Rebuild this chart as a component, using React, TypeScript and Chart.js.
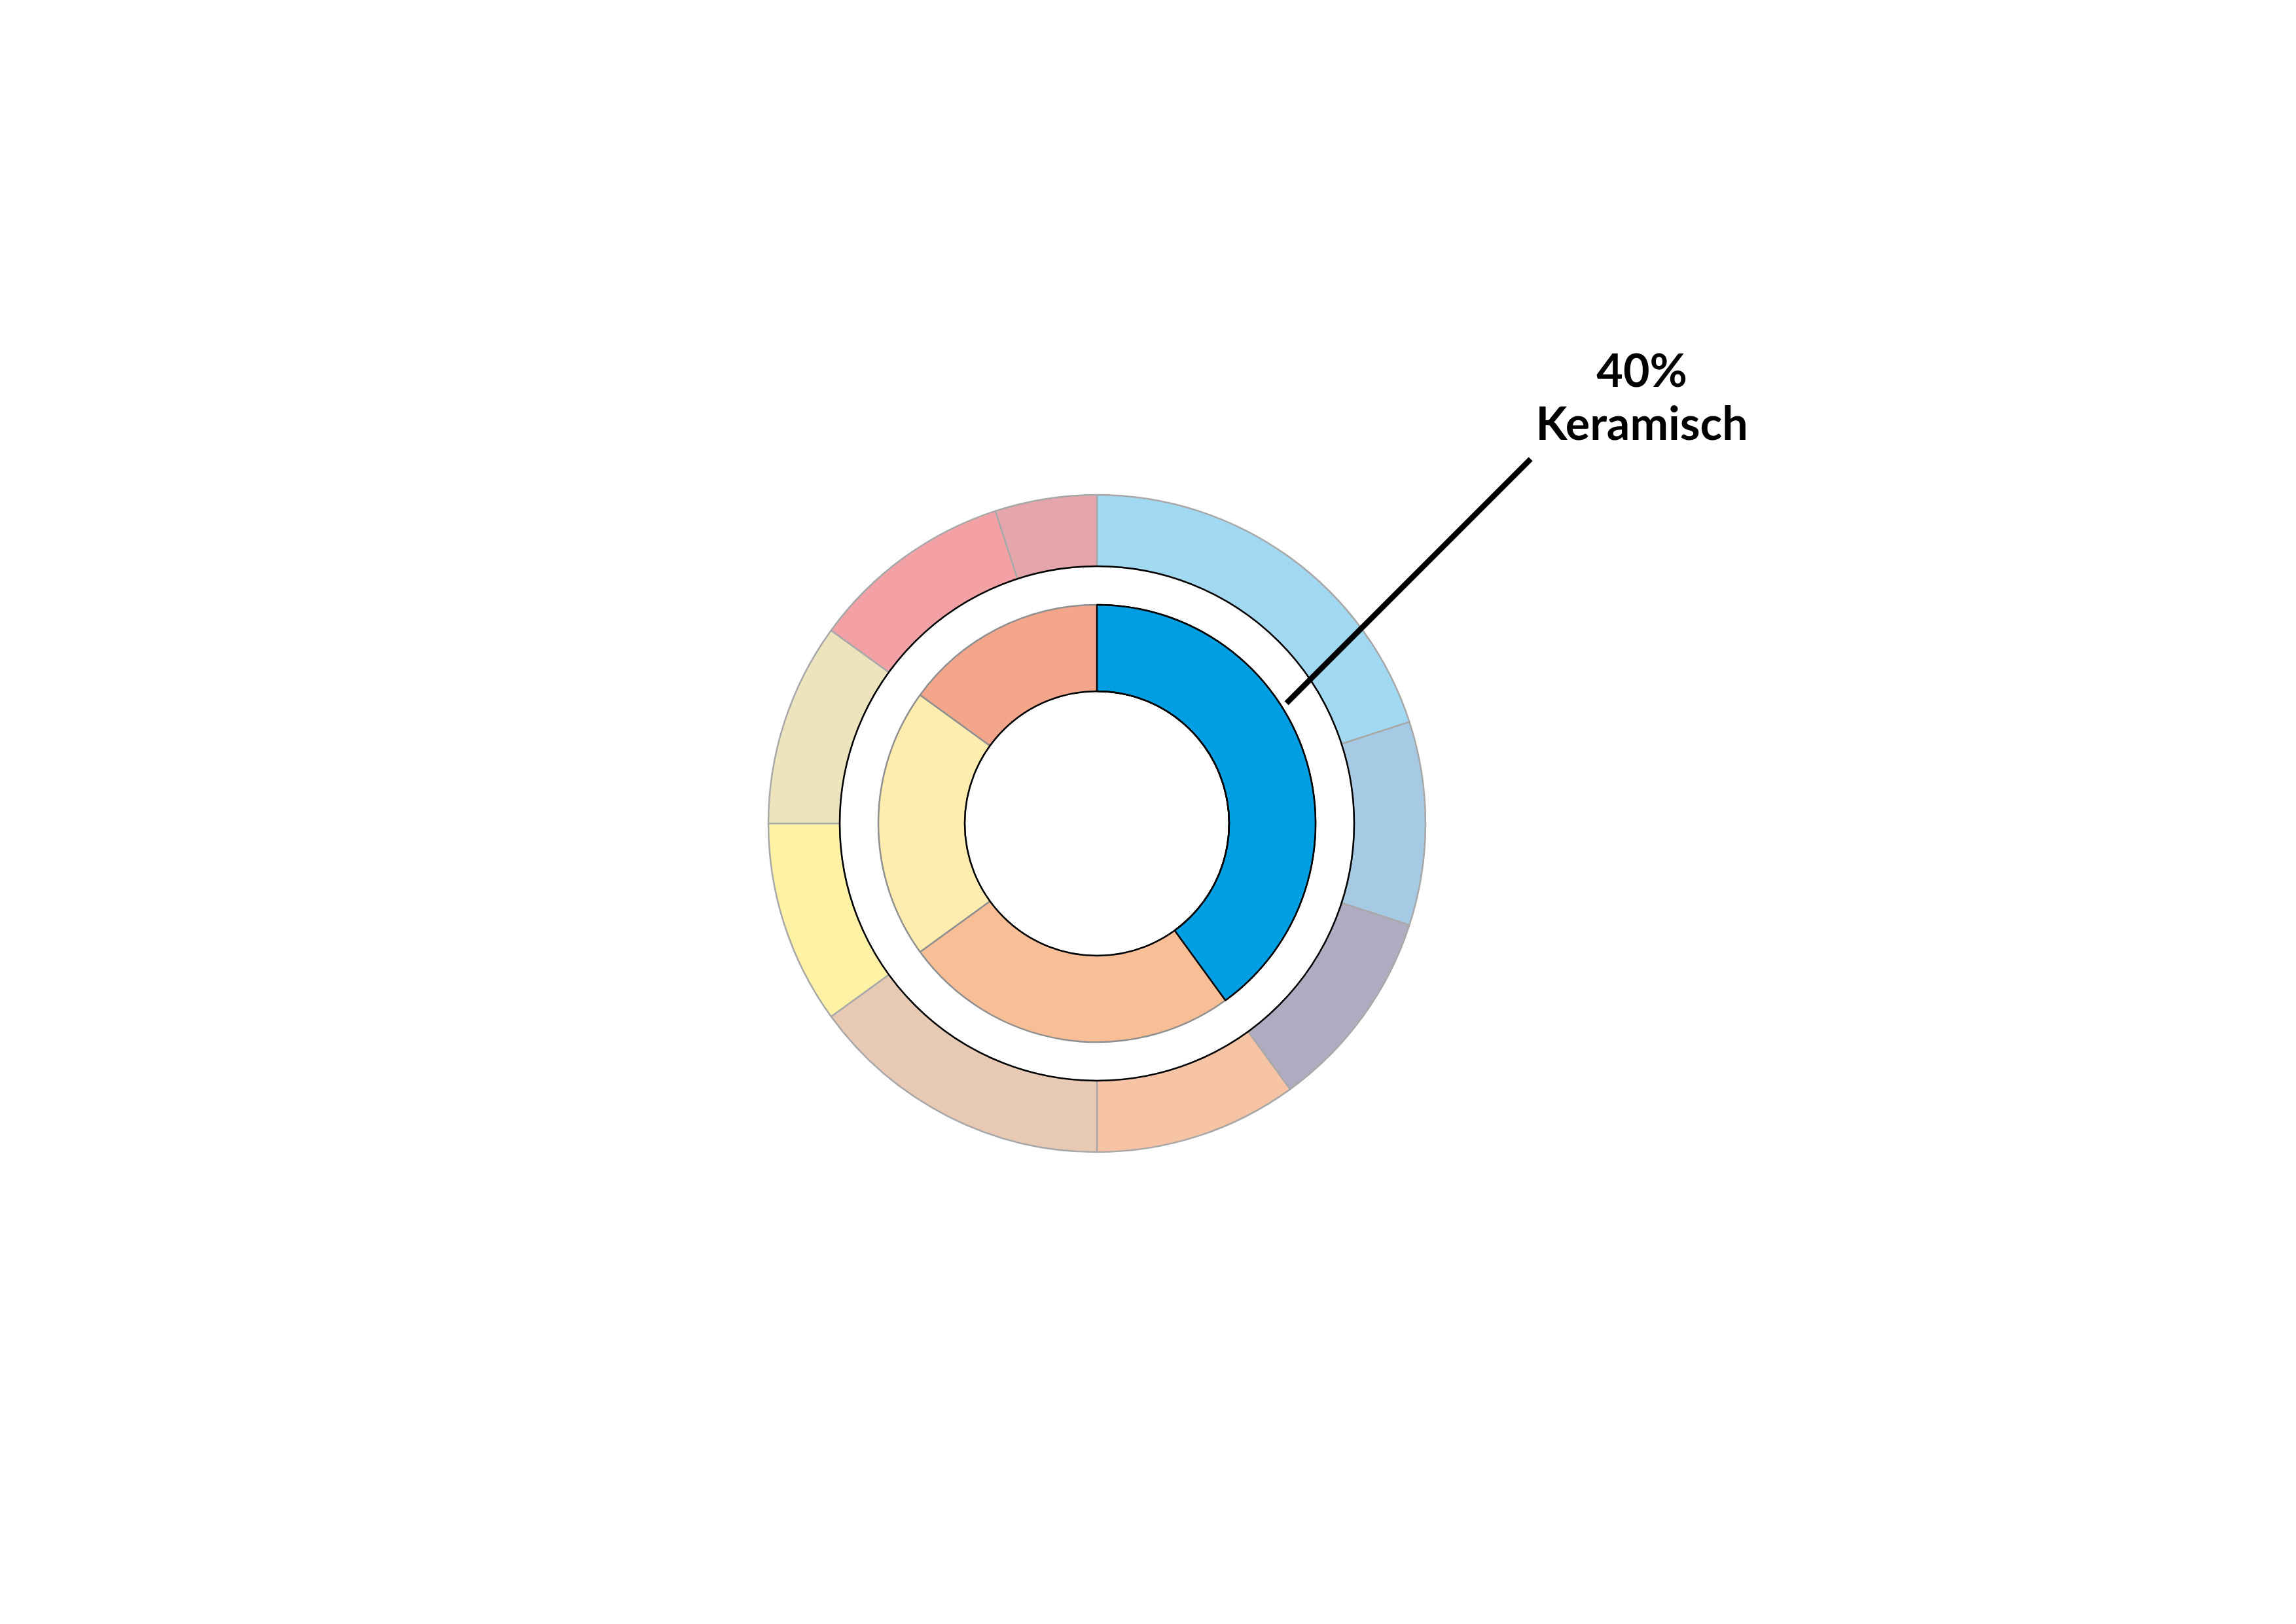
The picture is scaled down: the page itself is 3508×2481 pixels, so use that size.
import React, { useEffect, useRef } from "react";
import { Chart, registerables } from "chart.js";

Chart.register(...registerables);

const innerLabels = ["Keramisch", "Segment B", "Segment C", "Segment D"];
const innerValues = [40, 25, 20, 15];
const innerColors = ["#009fe3", "#f8bf97", "#feedae", "#f4a68b"];

const outerLabels = ["A1", "A2", "A3", "B1", "B2", "C1", "C2", "D1", "D2"];
const outerValues = [20, 10, 10, 10, 15, 10, 10, 10, 5];
const outerColors = [
  "#a2d9f2",
  "#a6c9e4",
  "#afacc1",
  "#f7c3a5",
  "#e7c9b4",
  "#fff2a5",
  "#ede4bd",
  "#f4a1a5",
  "#e5a6ab",
];

const calloutValue = "40%";
const calloutLabel = "Keramisch";

const W = 3508;
const H = 2481;

const decorPlugin = {
  id: "decor",
  afterDatasetsDraw(chart: any) {
    const ctx = chart.ctx;
    const outerMeta = chart.getDatasetMeta(0);
    const innerMeta = chart.getDatasetMeta(2);
    const oArc = outerMeta.data[0];
    const iArc = innerMeta.data[0];
    ctx.save();
    // redraw highlighted arc on top so its black border is complete
    iArc.draw(ctx);
    // black circles at inner edges
    ctx.strokeStyle = "#000";
    ctx.lineWidth = 2.5;
    ctx.beginPath();
    ctx.arc(oArc.x, oArc.y, oArc.innerRadius, 0, Math.PI * 2);
    ctx.stroke();
    ctx.beginPath();
    ctx.arc(iArc.x, iArc.y, iArc.innerRadius, 0, Math.PI * 2);
    ctx.stroke();

    // callout
    const a = iArc.startAngle + 0.4 * (iArc.endAngle - iArc.startAngle);
    const r = iArc.outerRadius + 9;
    const x0 = iArc.x + r * Math.cos(a);
    const y0 = iArc.y + r * Math.sin(a);
    const x1 = x0 + 373;
    const y1 = y0 - 373;
    ctx.lineWidth = 8.5;
    ctx.lineCap = "butt";
    ctx.beginPath();
    ctx.moveTo(x0, y0);
    ctx.lineTo(x1, y1);
    ctx.stroke();

    ctx.fillStyle = "#000";
    ctx.font = "bold 70px Lato";
    ctx.textAlign = "center";
    ctx.textBaseline = "alphabetic";
    ctx.fillText(calloutValue, x1 + 170, y1 - 110);
    ctx.fillText(calloutLabel, x1 + 170, y1 - 29);
    ctx.restore();
  },
};

export default function App() {
  const ref = useRef<HTMLCanvasElement | null>(null);
  useEffect(() => {
    if (!ref.current) return;
    const chart = new Chart(ref.current, {
      type: "doughnut",
      data: {
        labels: outerLabels,
        datasets: [
          {
            label: "Detail",
            data: outerValues,
            backgroundColor: outerColors,
            borderColor: "#a8a8a8",
            borderWidth: 2.5,
            weight: 109,
          } as any,
          {
            label: "spacer",
            data: [1],
            backgroundColor: "rgba(0,0,0,0)",
            borderWidth: 0,
            weight: 59,
          } as any,
          {
            label: "Hauptkategorie",
            data: innerValues,
            backgroundColor: innerColors,
            borderColor: ["#000", "#909090", "#909090", "#909090"],
            borderWidth: 2.5,
            weight: 132,
          } as any,
        ],
      },
      options: {
        responsive: false,
        animation: false,
        devicePixelRatio: 1,
        radius: 502,
        cutout: "40.24%",
        layout: { padding: { left: 0, right: 156, top: 35, bottom: 0 } },
        plugins: {
          legend: { display: false },
          tooltip: { enabled: false },
        },
      } as any,
      plugins: [decorPlugin],
    });
    return () => chart.destroy();
  }, []);
  return (
    <div style={{ position: "absolute", left: 0, top: 0, width: W, height: H, background: "#fff" }}>
      <canvas ref={ref} width={W} height={H} style={{ width: W, height: H, display: "block" }} />
    </div>
  );
}
